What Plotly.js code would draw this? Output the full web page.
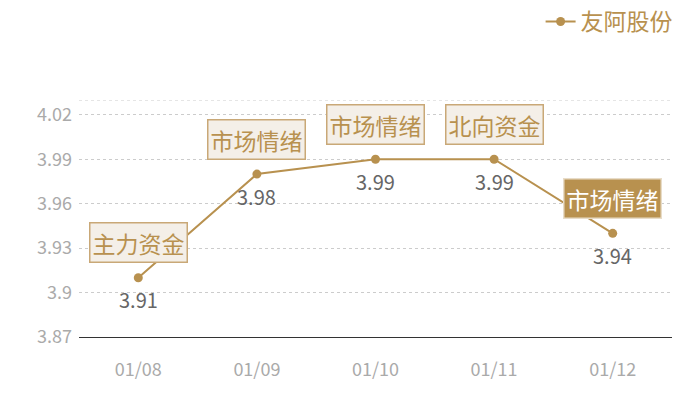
<!DOCTYPE html>
<html><head><meta charset="utf-8">
<script src="https://cdn.plot.ly/plotly-3.0.1.min.js"></script>
<style>body{margin:0}#c{width:700px;height:400px}</style>
</head><body><div id="c"></div>
<script>
var dates = ['01/08','01/09','01/10','01/11','01/12'];
var prices = [3.91, 3.98, 3.99, 3.99, 3.94];
var tags = ['主力资金','市场情绪','市场情绪','北向资金','市场情绪'];
var highlight = [false,false,false,false,true];
var seriesName = '友阿股份';
var yTicks = [3.87, 3.9, 3.93, 3.96, 3.99, 4.02];

var gold = '#b8914f';
var font = '"Noto Sans CJK SC", "Noto Sans", sans-serif';

var trace = {
  x: dates, y: prices, type: 'scatter', mode: 'lines+markers',
  name: seriesName,
  line: {color: gold, width: 2},
  marker: {color: gold, size: 9},
  cliponaxis: false
};

var annotations = [];
dates.forEach(function(d, i){
  var h = highlight[i];
  annotations.push({
    x: d, y: prices[i], xref: 'x', yref: 'y',
    text: tags[i], showarrow: false, yshift: 35,
    font: {family: font, size: 23, color: h ? '#ffffff' : gold},
    bgcolor: h ? gold : '#f4efe8',
    bordercolor: h ? '#e8dcc8' : '#c9a877',
    borderwidth: 1.5, borderpad: 2
  });
  annotations.push({
    x: d, y: prices[i], xref: 'x', yref: 'y',
    text: String(prices[i]), showarrow: false, yshift: -22,
    font: {family: font, size: 20, color: '#666666'}
  });
});

var layout = {
  width: 700, height: 400,
  margin: {l: 79, r: 28, t: 100, b: 63, autoexpand: false},
  paper_bgcolor: '#ffffff', plot_bgcolor: '#ffffff',
  font: {family: font},
  showlegend: true,
  legend: {xref: 'container', yref: 'container', x: 0.968, xanchor: 'right',
    y: 1.0, yanchor: 'top', orientation: 'h',
    font: {family: font, size: 23, color: gold}, bgcolor: 'rgba(0,0,0,0)'},
  xaxis: {type: 'category', range: [-0.5, 4.5], showgrid: false,
    showline: true, linecolor: '#333333', linewidth: 1.2, ticks: '',
    ticklabelstandoff: 16,
    tickfont: {family: font, size: 18, color: '#aaaaaa'}, fixedrange: true},
  yaxis: {range: [3.87, 4.03], tickvals: yTicks, ticktext: yTicks.map(String),
    showgrid: true, gridcolor: '#cccccc', griddash: 'dot', gridwidth: 1,
    zeroline: false, showline: false, ticks: '',
    ticklabelstandoff: 6,
    tickfont: {family: font, size: 18, color: '#aaaaaa'}, fixedrange: true},
  shapes: [{type: 'line', xref: 'paper', yref: 'y', x0: 0, x1: 1, y0: 4.03, y1: 4.03,
    line: {color: '#cccccc', width: 1, dash: 'dot'}}],
  annotations: annotations
};

Plotly.newPlot('c', [trace], layout, {displayModeBar: false, staticPlot: true});
</script></body></html>
